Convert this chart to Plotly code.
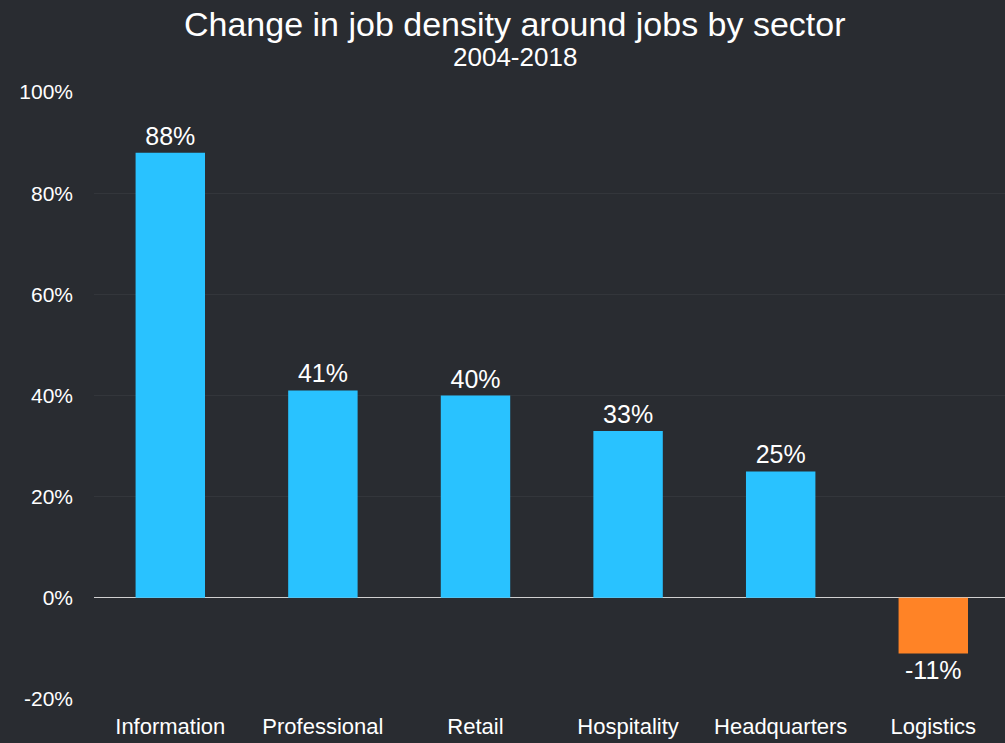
import plotly.graph_objects as go

sectors = ["Information", "Professional", "Retail", "Hospitality", "Headquarters", "Logistics"]
change = [0.88, 0.41, 0.40, 0.33, 0.25, -0.11]
labels = ["88%", "41%", "40%", "33%", "25%", "-11%"]

y_ticks = [-0.2, 0.0, 0.2, 0.4, 0.6, 0.8, 1.0]
y_tick_text = ["-20%", "0%", "20%", "40%", "60%", "80%", "100%"]

bg = "#292c31"
pos_color = "#29c2ff"
neg_color = "#ff8326"
colors = [pos_color if v >= 0 else neg_color for v in change]

fig = go.Figure(
    go.Bar(
        x=sectors,
        y=change,
        marker=dict(color=colors, line=dict(width=0)),
        text=labels,
        textposition="outside",
        textfont=dict(color="#ffffff", size=25),
        cliponaxis=False,
        width=0.455,
    )
)

fig.update_layout(
    width=1005,
    height=743,
    paper_bgcolor=bg,
    plot_bgcolor=bg,
    font=dict(family="Liberation Sans, Arial, sans-serif", color="#ffffff"),
    margin=dict(l=94, r=0, t=92, b=44),
    showlegend=False,
)

fig.add_annotation(text="Change in job density around jobs by sector",
                   x=0.5, xref="paper", xanchor="center", xshift=-35,
                   y=1, yref="paper", yanchor="middle", yshift=68,
                   showarrow=False, font=dict(size=34, color="#ffffff"))
fig.add_annotation(text="2004-2018",
                   x=0.5, xref="paper", xanchor="center", xshift=-35,
                   y=1, yref="paper", yanchor="middle", yshift=35,
                   showarrow=False, font=dict(size=26, color="#ffffff"))

fig.update_yaxes(
    range=[-0.2, 1.0],
    tickvals=y_ticks,
    ticktext=y_tick_text,
    showgrid=True,
    gridcolor="#33363b",
    gridwidth=1,
    zeroline=True,
    zerolinecolor="#d0d0d0",
    zerolinewidth=1,
    tickfont=dict(size=21, color="#ffffff"),
    ticks="",
    ticklabelstandoff=20,
)
fig.update_xaxes(
    range=[-0.5, 5.47],
    showgrid=False,
    tickfont=dict(size=22, color="#ffffff"),
    ticks="",
    showline=False,
    ticklabelstandoff=12,
)

fig.write_html("out.html")
